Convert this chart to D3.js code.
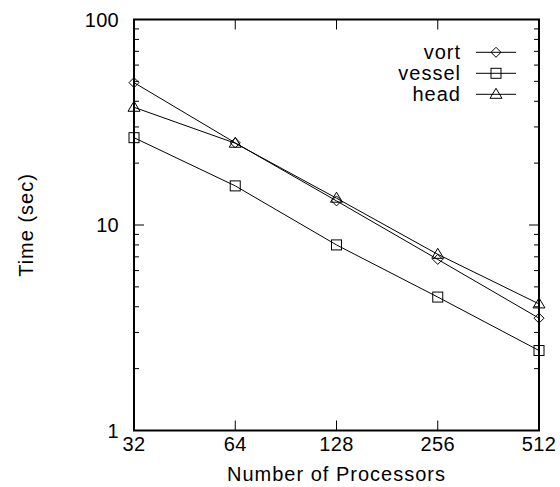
<!DOCTYPE html>
<html>
<head>
<meta charset="utf-8">
<script src="https://cdn.jsdelivr.net/npm/d3@7"></script>
<style>
  body { margin: 0; background: #fff; }
  text { font-family: "Liberation Sans", Arial, sans-serif; font-size: 20px; fill: #000; }
  text.word { letter-spacing: 1px; }
  text.num { letter-spacing: 0.3px; }
</style>
</head>
<body>
<svg id="chart"></svg>
<script>
var width = 560,
    height = 487,
    margin = {left: 134, right: 21, top: 19.5, bottom: 56.5};

var procs = [32, 64, 128, 256, 512],
    vort = [49.3, 25.1, 13.1, 6.8, 3.52],
    vessel = [26.6, 15.5, 8.0, 4.46, 2.45],
    head = [37.4, 25.0, 13.5, 7.2, 4.13],
    yTicks = [1, 10, 100];

var seriesNames = ["vort", "vessel", "head"],
    seriesData = [vort, vessel, head],
    markers = ["diamond", "square", "triangle"];

var svg = d3.select("#chart").attr("width", width).attr("height", height);

var x = d3.scaleLog().base(2).domain([32, 512]).range([margin.left, width - margin.right]),
    y = d3.scaleLog().domain([1, 100]).range([height - margin.bottom, margin.top]);

var x0 = x.range()[0], x1 = x.range()[1],
    y0 = y.range()[0], y1 = y.range()[1];

// minor y ticks (inward, both sides)
var minors = [];
for (var d = 1; d < 100; d *= 10) {
    for (var k = 2; k <= 9; k++) minors.push(d * k);
}
var g = svg.append("g").attr("stroke", "#000").attr("stroke-width", 1);
minors.forEach(function(v) {
    g.append("line").attr("x1", x0).attr("x2", x0 + 5).attr("y1", y(v)).attr("y2", y(v));
    g.append("line").attr("x1", x1).attr("x2", x1 - 5).attr("y1", y(v)).attr("y2", y(v));
});
yTicks.forEach(function(v) {
    g.append("line").attr("x1", x0).attr("x2", x0 + 10).attr("y1", y(v)).attr("y2", y(v));
    g.append("line").attr("x1", x1).attr("x2", x1 - 10).attr("y1", y(v)).attr("y2", y(v));
});
procs.forEach(function(p) {
    g.append("line").attr("x1", x(p)).attr("x2", x(p)).attr("y1", y0).attr("y2", y0 - 10);
    g.append("line").attr("x1", x(p)).attr("x2", x(p)).attr("y1", y1).attr("y2", y1 + 10);
});

// tick labels
svg.selectAll(".ylab").data(yTicks).enter().append("text").attr("class", "num")
    .attr("x", x0 - 15).attr("y", d => y(d) + 7)
    .attr("text-anchor", "end").text(d => d);
svg.selectAll(".xlab").data(procs).enter().append("text").attr("class", "num")
    .attr("x", d => x(d)).attr("y", y0 + 20.5)
    .attr("text-anchor", "middle").text(d => d);

svg.append("text").attr("class", "word").attr("x", (x0 + x1) / 2).attr("y", 481)
    .attr("text-anchor", "middle").text("Number of Processors");
svg.append("text").attr("class", "word").attr("transform", "translate(33," + y(10) + ") rotate(-90)")
    .attr("text-anchor", "middle").text("Time (sec)");

// data
var line = d3.line().x((d, i) => x(procs[i])).y(d => y(d));

function drawMarker(sel, type, cx, cy) {
    if (type == "diamond") {
        sel.append("path").attr("d", "M" + (cx - 5) + "," + cy + "L" + cx + "," + (cy - 5) +
            "L" + (cx + 5) + "," + cy + "L" + cx + "," + (cy + 5) + "Z");
    } else if (type == "square") {
        sel.append("rect").attr("x", cx - 5).attr("y", cy - 5).attr("width", 10).attr("height", 10);
    } else {
        sel.append("path").attr("d", "M" + (cx - 6) + "," + (cy + 4) + "L" + cx + "," + (cy - 6) +
            "L" + (cx + 6) + "," + (cy + 4) + "Z");
    }
}

var legY = [52.3, 73.3, 94.3];
seriesData.forEach(function(s, i) {
    var sg = svg.append("g").attr("stroke", "#000").attr("stroke-width", 1).attr("fill", "none");
    sg.append("path").attr("d", line(s));
    s.forEach(function(v, j) { drawMarker(sg, markers[i], x(procs[j]), y(v)); });

    sg.append("line").attr("x1", 476).attr("x2", 516).attr("y1", legY[i]).attr("y2", legY[i]);
    drawMarker(sg, markers[i], 496, legY[i]);
    svg.append("text").attr("class", "word").attr("x", 461).attr("y", legY[i] + 6.5)
        .attr("text-anchor", "end").text(seriesNames[i]);
});

// frame
svg.append("rect").attr("x", x0).attr("y", y1).attr("width", x1 - x0).attr("height", y0 - y1)
    .attr("fill", "none").attr("stroke", "#000").attr("stroke-width", 2);
</script>
</body>
</html>
